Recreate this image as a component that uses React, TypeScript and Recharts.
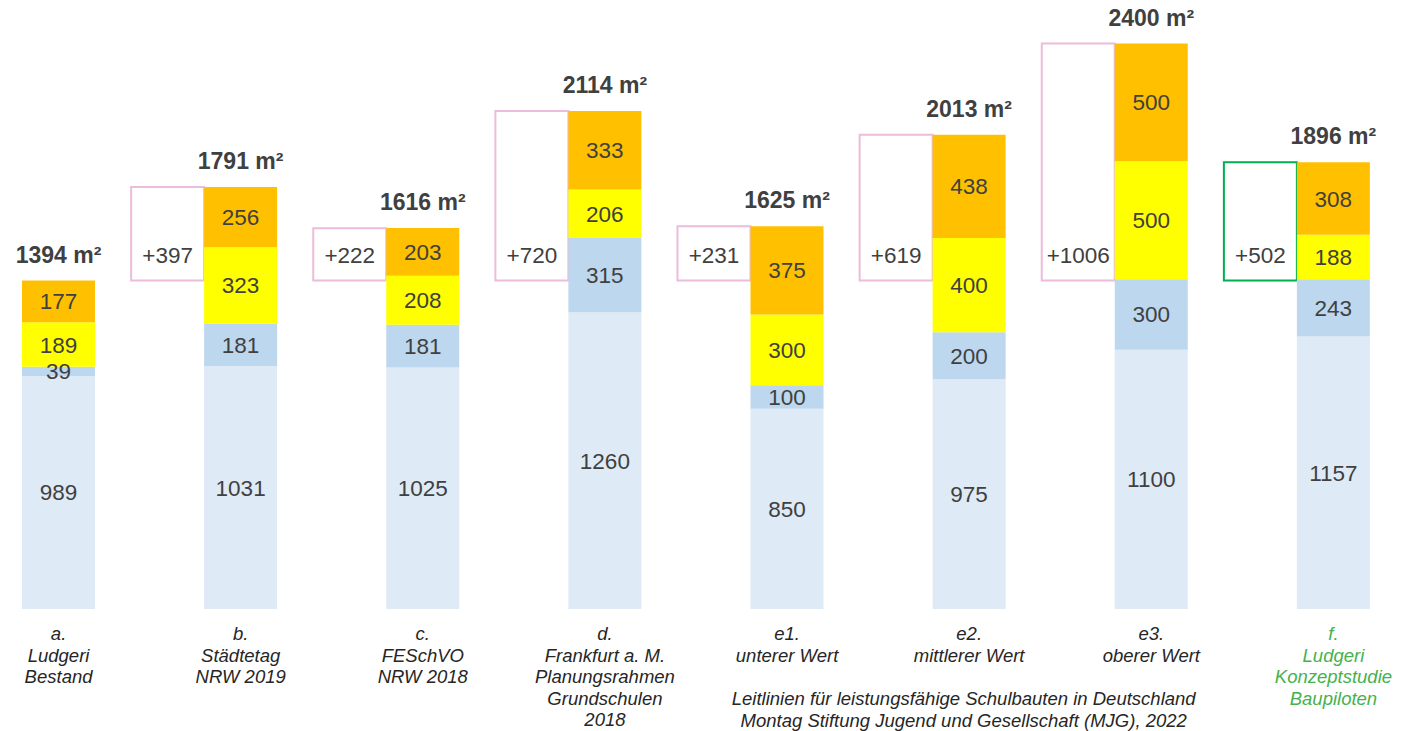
import { Bar, BarChart, Cell, LabelList, XAxis, YAxis } from 'recharts';
import type { ReactElement } from 'react';

const categories = ['a', 'b', 'c', 'd', 'e1', 'e2', 'e3', 'f'];
const categoryLines = [
  ['a.', 'Ludgeri', 'Bestand'],
  ['b.', 'Städtetag', 'NRW 2019'],
  ['c.', 'FESchVO', 'NRW 2018'],
  ['d.', 'Frankfurt a. M.', 'Planungsrahmen', 'Grundschulen', '2018'],
  ['e1.', 'unterer Wert'],
  ['e2.', 'mittlerer Wert'],
  ['e3.', 'oberer Wert'],
  ['f.', 'Ludgeri', 'Konzeptstudie', 'Baupiloten'],
];
const sourceNote = [
  'Leitlinien für leistungsfähige Schulbauten in Deutschland',
  'Montag Stiftung Jugend und Gesellschaft (MJG), 2022',
];

// m² per area type, bottom to top
const baseArea = [989, 1031, 1025, 1260, 850, 975, 1100, 1157];
const blueArea = [39, 181, 181, 315, 100, 200, 300, 243];
const yellowArea = [189, 323, 208, 206, 300, 400, 500, 188];
const orangeArea = [177, 256, 203, 333, 375, 438, 500, 308];
const totals = [1394, 1791, 1616, 2114, 1625, 2013, 2400, 1896];
const increase: (number | null)[] = [null, 397, 222, 720, 231, 619, 1006, 502];

const BAR = 73;
const FONT = '"Liberation Sans", Arial, sans-serif';
const TEXT = '#404040';
const PINK = '#EBBCDB';
const GREEN = '#00B050';
const GREEN_TEXT = '#45B24D';

const data = categories.map((key, i) => ({
  key,
  base: baseArea[i],
  blue: blueArea[i],
  yellow: yellowArea[i],
  orange: orangeArea[i],
  total: totals[i],
  boxBase: increase[i] == null ? null : totals[i] - (increase[i] as number),
  inc: increase[i],
}));

function CategoryTick(props: any): ReactElement {
  const { x, y, payload } = props;
  const i = categories.indexOf(payload.value);
  const cx = x + BAR / 2;
  const color = payload.value === 'f' ? GREEN_TEXT : '#262626';
  return (
    <g fontFamily={FONT} fontStyle="italic" fontSize={18.5}>
      <text x={cx} y={y} textAnchor="middle" fill={color}>
        {categoryLines[i].map((line, k) => (
          <tspan key={k} x={cx} dy={k === 0 ? 23 : 21.5}>
            {line}
          </tspan>
        ))}
      </text>
      {payload.value === 'e2' && (
        <text x={x + 31} y={y} textAnchor="middle" fill="#262626">
          {sourceNote.map((line, k) => (
            <tspan key={k} x={x + 31} dy={k === 0 ? 88 : 21.5}>
              {line}
            </tspan>
          ))}
        </text>
      )}
    </g>
  );
}

function TotalLabel(props: any): ReactElement {
  const { x, y, width, value } = props;
  return (
    <text x={x + width / 2} y={y - 18} textAnchor="middle" fontFamily={FONT} fontSize={23} fontWeight="bold" fill={TEXT}>
      {value} m²
    </text>
  );
}

function IncreaseLabel(props: any): ReactElement | null {
  const { x, y, width, height, value } = props;
  if (value == null || !height) return null;
  return (
    <text x={x + width / 2} y={y + height - 26} dy={8} textAnchor="middle" fontFamily={FONT} fontSize={22.5} fill={TEXT}>
      +{value}
    </text>
  );
}

const segLabel = { position: 'center' as const, fill: TEXT, fontSize: 22.5, fontFamily: FONT };

export default function App(): ReactElement {
  return (
    <div style={{ position: 'fixed', left: 0, top: 0, width: 1401, height: 731, background: '#fff' }}>
      <BarChart
        width={1401}
        height={731}
        data={data}
        barSize={BAR}
        barGap={0}
        margin={{ top: 20, right: 13, left: -69, bottom: 12 }}
      >
        <XAxis
          dataKey="key"
          height={110}
          axisLine={false}
          tickLine={false}
          interval={0}
          tick={<CategoryTick />}
        />
        <YAxis hide domain={[0, 2500]} />
        <Bar dataKey="boxBase" stackId="box" fill="none" isAnimationActive={false} />
        <Bar dataKey="inc" stackId="box" fill="#fff" strokeWidth={2} isAnimationActive={false}>
          {data.map((d) => (
            <Cell key={d.key} stroke={d.key === 'f' ? GREEN : PINK} />
          ))}
          <LabelList dataKey="inc" content={<IncreaseLabel />} />
        </Bar>
        <Bar dataKey="base" stackId="area" fill="#DEEAF6" isAnimationActive={false}>
          <LabelList dataKey="base" {...segLabel} />
        </Bar>
        <Bar dataKey="blue" stackId="area" fill="#BDD7EE" isAnimationActive={false}>
          <LabelList dataKey="blue" {...segLabel} />
        </Bar>
        <Bar dataKey="yellow" stackId="area" fill="#FFFF00" isAnimationActive={false}>
          <LabelList dataKey="yellow" {...segLabel} />
        </Bar>
        <Bar dataKey="orange" stackId="area" fill="#FFC000" isAnimationActive={false}>
          <LabelList dataKey="orange" {...segLabel} />
          <LabelList dataKey="total" content={<TotalLabel />} />
        </Bar>
      </BarChart>
    </div>
  );
}
